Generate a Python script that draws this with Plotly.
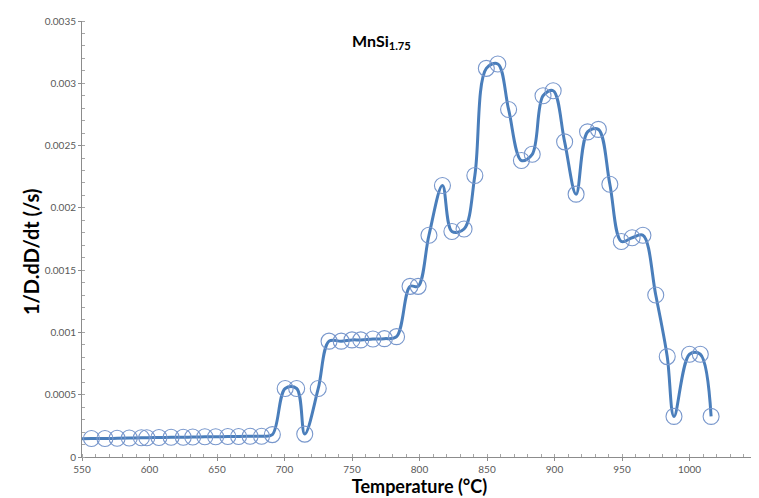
import plotly.graph_objects as go

# Temperature (°C) of each measured point
temperature = [557, 567, 576, 585, 594, 598, 607, 616, 625, 632,
               641, 649, 658, 666, 674.5, 683, 691,
               700.5, 709, 715, 725, 733, 742, 750, 756.5, 765.5, 774, 783,
               793, 799, 807, 817, 824, 833, 841, 849.5, 858, 866,
               875.5, 883.5, 891.5, 899, 907.5, 916, 924.5, 932.5, 941, 949.5,
               957.5, 965.5, 975, 983.5, 988.5, 1000, 1008, 1016]

# 1/D.dD/dt (/s)
rate = [0.000148, 0.000148, 0.00015, 0.000152, 0.000154, 0.000155, 0.000156, 0.000158, 0.000159, 0.00016,
        0.000162, 0.000163, 0.000164, 0.000165, 0.000166, 0.000167, 0.00018,
        0.00055, 0.00055, 0.000184, 0.00055, 0.00093, 0.00093, 0.00094, 0.00094, 0.000947, 0.00095, 0.000966,
        0.00137, 0.00137, 0.00178, 0.00218, 0.00181, 0.00183, 0.00226, 0.00312, 0.003155, 0.00279,
        0.00238, 0.00243, 0.0029, 0.00294, 0.00253, 0.00211, 0.00261, 0.00263, 0.00219, 0.00173,
        0.00176, 0.00178, 0.0013, 0.000806, 0.000326, 0.000825, 0.000825, 0.000326]

# smoothed line starts at the axis origin
line_start_t = [550]
line_start_v = [0.000146]

x_ticks = [550, 600, 650, 700, 750, 800, 850, 900, 950, 1000, 1050]
x_tick_text = ["550", "600", "650", "700", "750", "800", "850", "900", "950", "1000", "1050"]
y_ticks = [0, 0.0005, 0.001, 0.0015, 0.002, 0.0025, 0.003, 0.0035]
y_tick_text = ["0", "0.0005", "0.001", "0.0015", "0.002", "0.0025", "0.003", "0.0035"]

FONT = "Lato, 'Open Sans', sans-serif"

fig = go.Figure()
fig.add_trace(go.Scatter(
    x=line_start_t + temperature, y=line_start_v + rate,
    mode="lines", line=dict(color="#4a7ebb", width=3, shape="spline", smoothing=1.0),
    hoverinfo="skip", showlegend=False))
fig.add_trace(go.Scatter(
    x=temperature, y=rate, mode="markers",
    marker=dict(symbol="circle-open", size=16, color="#7897cc", line=dict(width=1.1, color="#7897cc")),
    showlegend=False))

axis_common = dict(
    showgrid=False, zeroline=False, showline=True, linecolor="#8c8c8c", linewidth=1,
    ticks="outside", ticklen=3, tickcolor="#8c8c8c", tickwidth=1,
    tickfont=dict(family=FONT, size=10, color="#595959"),
    minor=dict(ticks="inside", ticklen=3, tickcolor="#a6a6a6", showgrid=False),
)

fig.update_xaxes(range=[550, 1050], tickvals=x_ticks, ticktext=x_tick_text,
                 minor_dtick=10,
                 title=dict(text="<b>Temperature (°C)</b>", font=dict(family=FONT, size=18, color="#000000"),
                            standoff=2),
                 **axis_common)
fig.update_yaxes(range=[0, 0.0035], tickvals=y_ticks, ticktext=y_tick_text,
                 minor_dtick=0.0001, **axis_common)

# y-axis title
fig.add_annotation(text="<b>1/D.dD/dt (/s)</b>", xref="paper", yref="paper",
                   x=-0.0756, y=0.47, textangle=-90, showarrow=False,
                   xanchor="center", yanchor="middle",
                   font=dict(family=FONT, size=20, color="#000000"))

fig.add_annotation(text="<b>MnSi<sub>1.75</sub></b>", xref="paper", yref="paper",
                   x=0.443, y=0.954, showarrow=False, xanchor="center", yanchor="middle",
                   font=dict(family=FONT, size=16, color="#000000"))

fig.update_layout(
    width=759, height=498,
    margin=dict(l=74, r=10, t=13, b=49, autoexpand=False),
    plot_bgcolor="white", paper_bgcolor="white",
)

fig.write_html("out.html")
